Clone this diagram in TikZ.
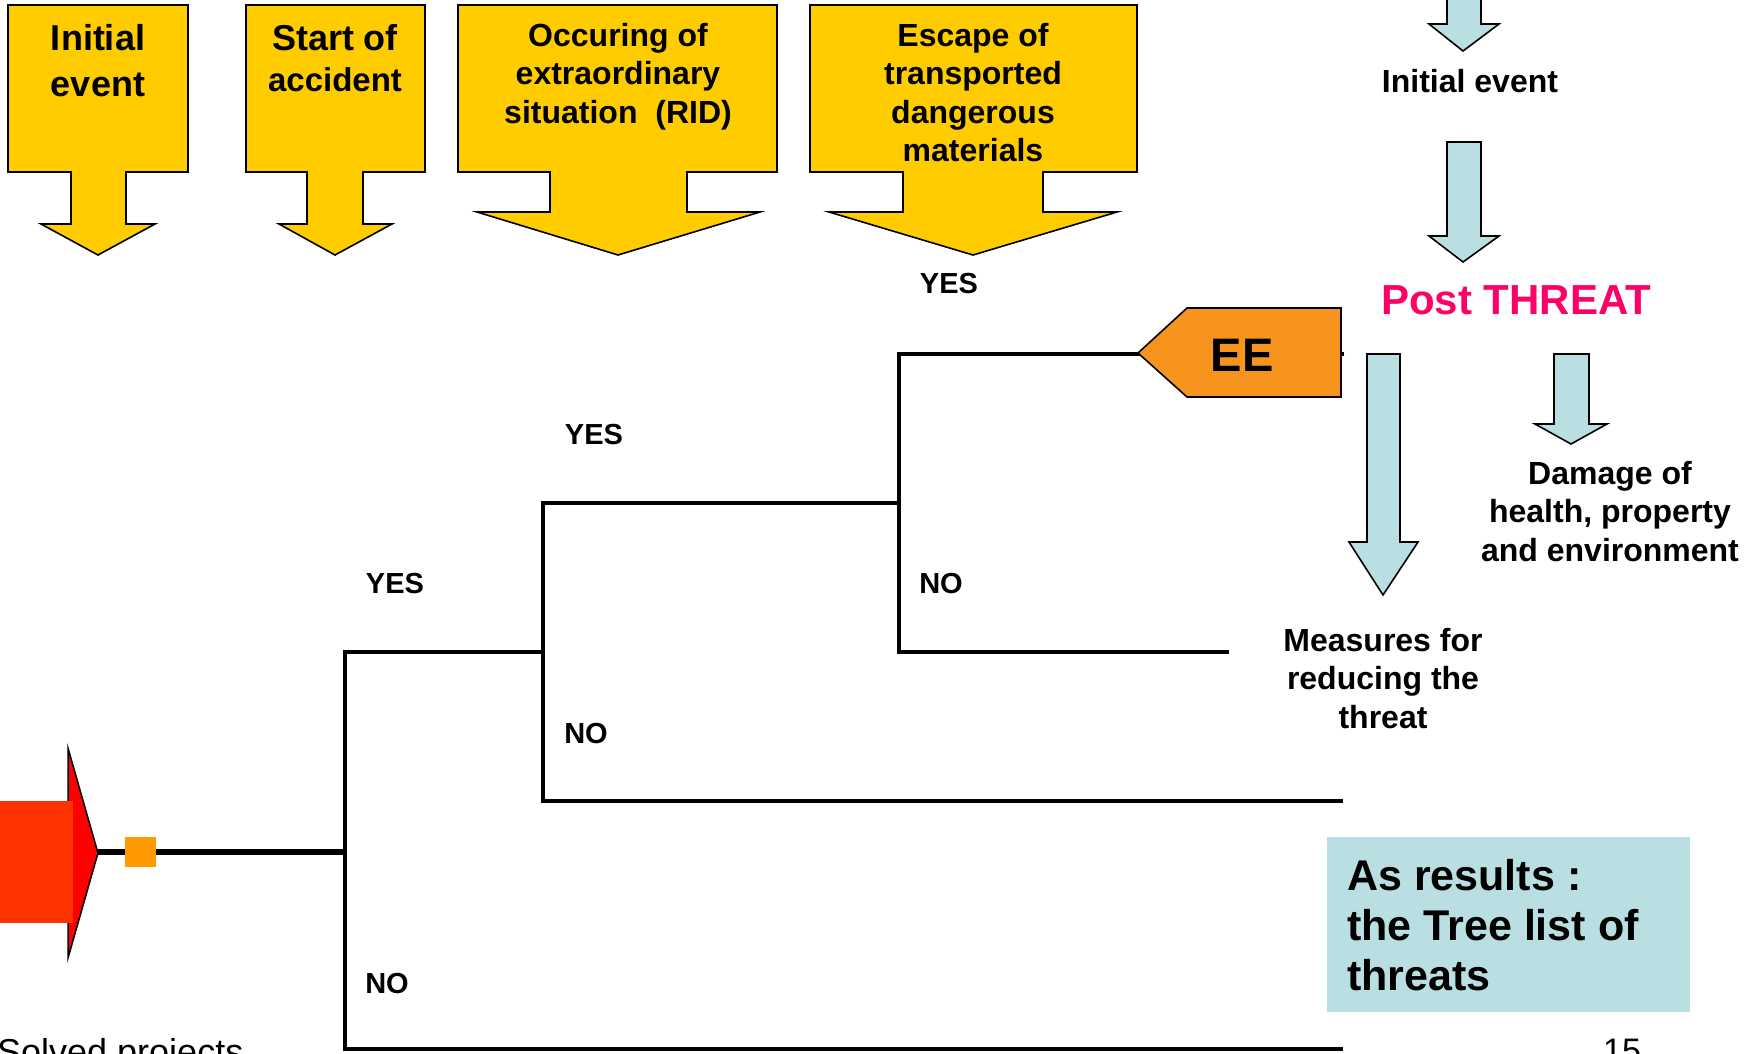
\documentclass[tikz,border=0pt]{standalone}
\usepackage{fontspec}
\setmainfont{Liberation Sans}
\definecolor{ybox}{HTML}{FFCC00}
\definecolor{lblue}{HTML}{B9DFE3}
\definecolor{eeorange}{HTML}{F7941D}
\definecolor{threat}{HTML}{FF0066}
\definecolor{redrect}{HTML}{FF3300}
\definecolor{redtri}{HTML}{FF0000}
\definecolor{sq}{HTML}{FF9900}
\begin{document}
\begin{tikzpicture}[x=1pt,y=-1pt,
  yarrow/.style={fill=ybox,draw=black,line width=1.6pt,line join=miter},
  barrow/.style={fill=lblue,draw=black,line width=1.6pt,line join=miter},
  branch/.style={line width=4.5pt,line join=miter},
  basept/.style={inner sep=0pt,anchor=base},
  fA/.style={basept,font=\fontsize{36}{40}\selectfont\bfseries},
  fA2/.style={basept,font=\fontsize{33}{40}\selectfont\bfseries},
  fB/.style={basept,font=\fontsize{32}{38}\selectfont\bfseries},
  fL/.style={basept,font=\fontsize{29}{34}\selectfont\bfseries},
  fR/.style={inner sep=0pt,anchor=base west,font=\fontsize{43}{50}\selectfont\bfseries},
]
\useasboundingbox (0,0) rectangle (1745,1053);
\clip (0,0) rectangle (1745,1053);
\fill[white] (0,0) rectangle (1745,1053);

% ---- yellow block arrows
\draw[yarrow] (8,5) -- (188,5) -- (188,172) -- (126,172) -- (126,224) -- (155,224) -- (98,255) -- (41,224) -- (71,224) -- (71,172) -- (8,172) -- cycle;
\draw[yarrow] (246,5) -- (425,5) -- (425,172) -- (363,172) -- (363,224) -- (392,224) -- (335,255) -- (279,224) -- (307,224) -- (307,172) -- (246,172) -- cycle;
\draw[yarrow] (458,5) -- (777,5) -- (777,172) -- (687,172) -- (687,212) -- (760,212) -- (618,255) -- (477,212) -- (550,212) -- (550,172) -- (458,172) -- cycle;
\draw[yarrow] (810,5) -- (1137,5) -- (1137,172) -- (1043,172) -- (1043,212) -- (1117,212) -- (973,255) -- (829,212) -- (903,212) -- (903,172) -- (810,172) -- cycle;

\node[fA] (ie1) at (98,50) {Initial};
\node[fA] (ie2) at (98,96) {event};
\node[fA] (sa1) at (335,50) {Start of};
\node[fA2] (sa2) at (335,91) {accident};
\node[fB] (oc1) at (618,46) {Occuring of};
\node[fB] (oc2) at (618,84.5) {extraordinary};
\node[fB] (oc3) at (618,123) {situation~~(RID)};
\node[fB] (es1) at (973,46) {Escape of};
\node[fB] (es2) at (973,84.5) {transported};
\node[fB] (es3) at (973,123) {dangerous};
\node[fB] (es4) at (973,161.5) {materials};

% ---- right column
\draw[barrow] (1447,-5) -- (1481,-5) -- (1481,24) -- (1499,24) -- (1463,51) -- (1429,24) -- (1447,24) -- cycle;
\node[fB] (ievent) at (1470,92) {Initial event};
\draw[barrow] (1447,142) -- (1481,142) -- (1481,236) -- (1499,236) -- (1463,262) -- (1429,236) -- (1447,236) -- cycle;
\node[basept,font=\fontsize{42}{46}\selectfont\bfseries,text=threat] (post) at (1516,314) {Post THREAT};
\draw[barrow] (1367,354) -- (1400,354) -- (1400,542) -- (1418,542) -- (1383,595) -- (1349,542) -- (1367,542) -- cycle;
\draw[barrow] (1554,354) -- (1589,354) -- (1589,424) -- (1607,424) -- (1571,444) -- (1535,424) -- (1554,424) -- cycle;
\node[fB] (dm1) at (1610,484) {Damage of};
\node[fB] (dm2) at (1610,522.5) {health, property};
\node[fB] (dm3) at (1610,561) {and environment};
\node[fB] (ms1) at (1383,651) {Measures for};
\node[fB] (ms2) at (1383,689.5) {reducing the};
\node[fB] (ms3) at (1383,728) {threat};

% ---- tree
\coordinate (r) at (98,852);
\coordinate (a) at (345,852);
\coordinate (aT) at (345,652);
\coordinate (aB) at (345,1049);
\coordinate (aNo) at (1343,1049);
\coordinate (b) at (543,652);
\coordinate (bT) at (543,503);
\coordinate (bB) at (543,801);
\coordinate (bNo) at (1343,801);
\coordinate (c) at (899,503);
\coordinate (cT) at (899,354);
\coordinate (cB) at (899,652);
\coordinate (cNo) at (1229,652);
\coordinate (eeEnd) at (1344,354);

\draw[branch] (b) -- (aT) -- (aB) -- (aNo);
\draw[branch] (c) -- (bT) -- (bB) -- (bNo);
\draw[branch] (eeEnd) -- (cT) -- (cB) -- (cNo);
\draw[line width=5.5pt] (r) -- (a);

\draw[fill=eeorange,line width=1.6pt,line join=miter] (1138,353) -- (1187,308) -- (1341,308) -- (1341,397) -- (1187,397) -- cycle;
\node[basept,font=\fontsize{47}{50}\selectfont\bfseries] (ee) at (1242,371) {EE};

\node[fL] (y1) at (949,293) {YES};
\node[fL] (y2) at (594,444) {YES};
\node[fL] (y3) at (395,593) {YES};
\node[fL] (n1) at (941,593) {NO};
\node[fL] (n2) at (586,743) {NO};
\node[fL] (n3) at (387,993) {NO};

% ---- root
\draw[fill=redtri,line width=1.5pt,line join=miter] (68,748) -- (98,853) -- (68,958) -- cycle;
\fill[redrect] (-2,801) rectangle (73,923);
\fill[sq] (125,837) rectangle (156,867);

% ---- results box
\fill[lblue] (1327,837) rectangle (1690,1012);
\node[fR] (res1) at (1347,890) {As results :};
\node[fR] (res2) at (1347,940) {the Tree list of};
\node[fR] (res3) at (1347,990) {threats};

% ---- cut-off footer texts (cut off in the reference too)
\node[inner sep=0pt,anchor=base west,font=\fontsize{36}{40}\selectfont] (solved) at (-3,1064) {Solved projects};
\node[inner sep=0pt,anchor=base west,font=\fontsize{34}{40}\selectfont] (pg) at (1603,1062) {15};
\end{tikzpicture}
\end{document}
